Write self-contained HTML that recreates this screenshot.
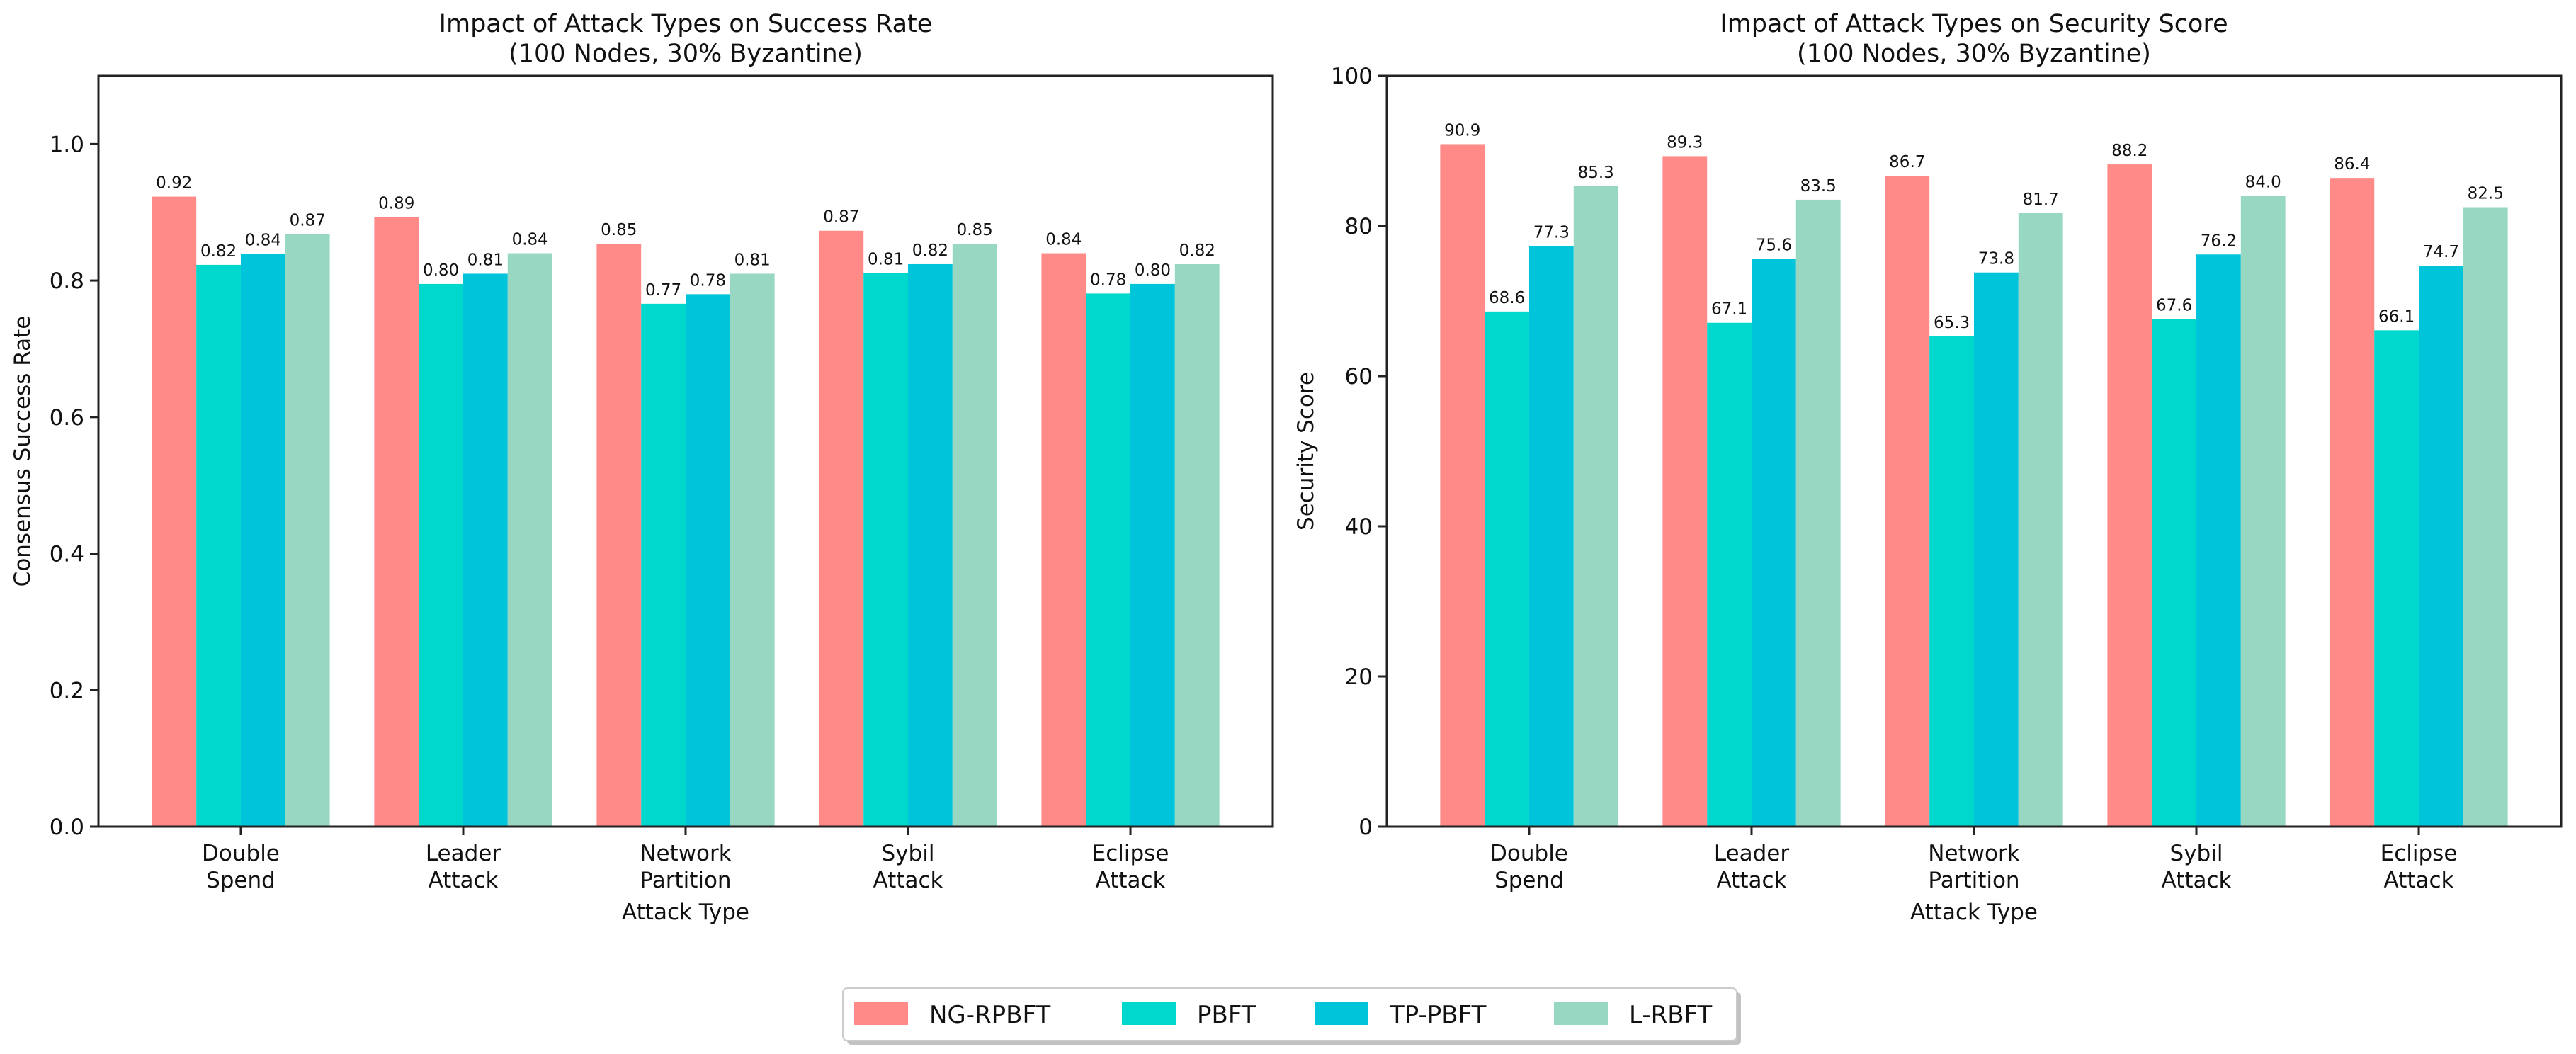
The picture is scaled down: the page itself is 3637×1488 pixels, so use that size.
<!DOCTYPE html>
<html><head><meta charset="utf-8">
<style>
html,body{margin:0;padding:0;background:#fff;}
svg{display:block;font-family:"DejaVu Sans","Liberation Sans",sans-serif;}
</style></head>
<body>
<svg id="chart" width="3637" height="1488" viewBox="0 0 3637 1488" xmlns="http://www.w3.org/2000/svg"></svg>
<script>
const categories = [["Double","Spend"],["Leader","Attack"],["Network","Partition"],["Sybil","Attack"],["Eclipse","Attack"]];
const seriesNames = ["NG-RPBFT","PBFT","TP-PBFT","L-RBFT"];
const seriesColors = ["#ff8a88","#00d8cd","#00c4da","#98d8c2"];
const successNG = [0.923,0.893,0.854,0.873,0.840];
const successPBFT = [0.823,0.795,0.766,0.811,0.781];
const successTP = [0.839,0.810,0.780,0.824,0.795];
const successL = [0.868,0.840,0.810,0.854,0.824];
const securityNG = [90.9,89.3,86.7,88.2,86.4];
const securityPBFT = [68.6,67.1,65.3,67.6,66.1];
const securityTP = [77.3,75.6,73.8,76.2,74.7];
const securityL = [85.3,83.5,81.7,84.0,82.5];
const successTicks = [0,0.2,0.4,0.6,0.8,1.0];
const securityTicks = [0,20,40,60,80,100];

const svg = document.getElementById('chart');
const NS = 'http://www.w3.org/2000/svg';
function mk(tag, attrs, parent){
  const e = document.createElementNS(NS, tag);
  for (const k in attrs) e.setAttribute(k, attrs[k]);
  (parent||svg).appendChild(e);
  return e;
}

function drawPanel(opt){
  const g = mk('g', {});
  
  
  const L = opt.left, R = opt.right, T = 107, B = 1167;
  const xmin = -0.64, xmax = 4.64;
  const xs = v => L + (v - xmin) / (xmax - xmin) * (R - L);
  const ys = v => B - (v / opt.ymax) * (B - T);
  const bw = 0.2;
  opt.series.forEach((vals, si) => {
    vals.forEach((v, ci) => {
      const x0 = xs(ci - 0.4 + si * bw);
      const x1 = xs(ci - 0.4 + (si + 1) * bw);
      const r = mk('rect', {x: x0, y: ys(v), width: x1 - x0, height: B - ys(v), fill: seriesColors[si]}, g);
      
      
      const t = mk('text', {x: (x0 + x1) / 2, y: ys(v) - 12, 'font-size': 23, 'text-anchor': 'middle', fill: '#111'}, g);
      t.textContent = v.toFixed(opt.dec);
      
      
    });
  });
  const frame = mk('rect', {x: L, y: T, width: R - L, height: B - T, fill: 'none', stroke: '#222', 'stroke-width': 3}, g);
  
  
  opt.ticks.forEach(tv => {
    mk('line', {x1: L - 12, x2: L, y1: ys(tv), y2: ys(tv), stroke: '#222', 'stroke-width': 3}, g);
    const t = mk('text', {x: L - 20, y: ys(tv) + 11, 'font-size': 31, 'text-anchor': 'end', fill: '#111'}, g);
    t.textContent = tv.toFixed(opt.tdec);
    
    
  });
  categories.forEach((c, ci) => {
    mk('line', {x1: xs(ci), x2: xs(ci), y1: B, y2: B + 12, stroke: '#222', 'stroke-width': 3}, g);
    c.forEach((line, li) => {
      const t = mk('text', {x: xs(ci), y: 1215 + li * 38, 'font-size': 31, 'text-anchor': 'middle', fill: '#111'}, g);
      t.textContent = line;
      
      
    });
  });
  const xl = mk('text', {x: (L + R) / 2, y: 1298, 'font-size': 31, 'text-anchor': 'middle', fill: '#111'}, g);
  xl.textContent = 'Attack Type';
  
  
  const yl = mk('text', {x: 0, y: 0, 'font-size': 31, 'text-anchor': 'middle', fill: '#111', transform: 'translate(' + opt.ylx + ',637) rotate(-90)'}, g);
  yl.textContent = opt.ylabel;
  
  
  opt.title.forEach((line, li) => {
    const t = mk('text', {x: (L + R) / 2, y: 45 + li * 42, 'font-size': 35, 'text-anchor': 'middle', fill: '#111'}, g);
    t.textContent = line;
    
    
  });
}

drawPanel({name: 'success-rate-panel', left: 139, right: 1797, ymax: 1.1, dec: 2, tdec: 1,
  series: [successNG, successPBFT, successTP, successL], ticks: successTicks,
  ylabel: 'Consensus Success Rate', ylx: 42,
  title: ['Impact of Attack Types on Success Rate', '(100 Nodes, 30% Byzantine)']});
drawPanel({name: 'security-score-panel', left: 1958, right: 3616, ymax: 100, dec: 1, tdec: 0,
  series: [securityNG, securityPBFT, securityTP, securityL], ticks: securityTicks,
  ylabel: 'Security Score', ylx: 1854,
  title: ['Impact of Attack Types on Security Score', '(100 Nodes, 30% Byzantine)']});

// legend
const lg = mk('g', {});


mk('rect', {x: 1196, y: 1401, width: 1262, height: 74, rx: 6, fill: '#999', opacity: 0.6}, lg);
mk('rect', {x: 1190, y: 1395, width: 1262, height: 74, rx: 6, fill: '#fff', stroke: '#ccc', 'stroke-width': 2}, lg);
const patchX = [1206, 1584, 1856, 2194];
seriesNames.forEach((n, i) => {
  const e = mk('g', {}, lg);
  
  
  mk('rect', {x: patchX[i], y: 1415, width: 76, height: 32, fill: seriesColors[i]}, e);
  const t = mk('text', {x: patchX[i] + 106, y: 1444, 'font-size': 34, fill: '#111'}, e);
  t.textContent = n;
});
</script>
</body></html>
